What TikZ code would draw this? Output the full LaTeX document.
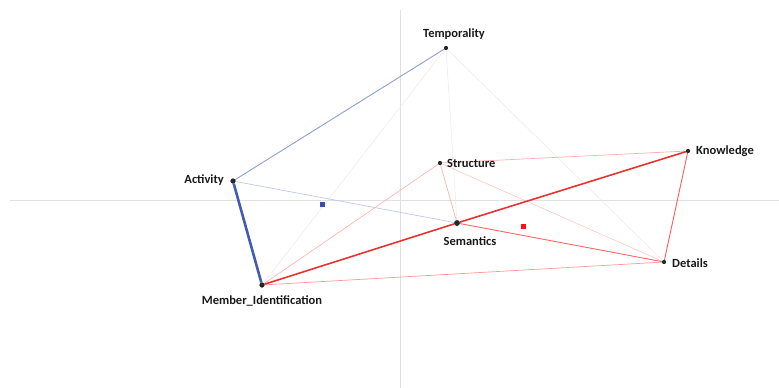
\documentclass[tikz,border=0pt]{standalone}
\usepackage{fontspec}
\setmainfont{Carlito}
\definecolor{bthick}{RGB}{66,92,176}
\definecolor{bmed}{RGB}{140,158,210}
\definecolor{blight}{RGB}{190,200,230}
\definecolor{fnt}{RGB}{232,232,240}
\definecolor{rthick}{RGB}{232,50,50}
\definecolor{bsqc}{RGB}{50,80,180}
\definecolor{rsqc}{RGB}{240,20,20}
\begin{document}
\begin{tikzpicture}[x=1pt,y=-1pt,
  dot/.style={circle,fill=black!85,inner sep=0pt,minimum size=#1},
  lbl/.style={font=\bfseries\fontsize{12.5}{14}\selectfont,text=black!90,inner sep=0pt},
  axis/.style={draw=black!12,line width=0.6pt},
  faint/.style={draw=fnt,line width=0.5pt},
  sq/.style={fill=#1,inner sep=0pt,minimum size=5pt}]
\useasboundingbox (0,0) rectangle (779,388);
% axes
\coordinate (hl) at (10,200); \coordinate (hr) at (779,200);
\coordinate (vt) at (400,10); \coordinate (vb) at (400,388);
\draw[axis] (hl) -- (hr);
\draw[axis] (vt) -- (vb);
% nodes
\node[dot=4pt] (tem) at (446,48) {};
\node[dot=5pt] (act) at (233,181) {};
\node[dot=5pt] (mem) at (262,285) {};
\node[dot=4pt] (str) at (440,163) {};
\node[dot=4pt] (kno) at (688,151) {};
\node[dot=5.5pt] (sem) at (457,223) {};
\node[dot=4pt] (det) at (664,262) {};
% edges
\draw[faint] (tem) -- (mem);
\draw[faint] (tem) -- (sem);
\draw[faint] (tem) -- (det);
\draw[draw=red!25,line width=0.5pt] (str) -- (det);
\draw[draw=red!32,line width=0.6pt] (str) -- (mem);
\draw[draw=red!35,line width=0.6pt] (str) -- (sem);
\draw[draw=red!32,line width=0.7pt] (str) -- (kno);
\draw[draw=red!40,line width=0.7pt] (mem) -- (det);
\draw[draw=red!60,line width=0.9pt] (sem) -- (det);
\draw[draw=red!65,line width=0.9pt] (kno) -- (det);
\draw[draw=blight,line width=0.7pt] (act) -- (sem);
\draw[draw=bmed,line width=0.9pt] (tem) -- (act);
\draw[draw=rthick,line width=1.6pt] (mem) -- (sem);
\draw[draw=rthick,line width=1.6pt] (sem) -- (kno);
\draw[draw=bthick,line width=2.6pt] (act) -- (mem);
% redraw dots on top
\fill[black!85] (tem) circle (2pt) (act) circle (2.5pt) (mem) circle (2.5pt) (str) circle (2pt) (kno) circle (2pt) (sem) circle (2.75pt) (det) circle (2pt);
% squares
\node[sq=bsqc] (bsq) at (322,204) {};
\node[sq=rsqc] (rsq) at (523,226) {};
% labels
\node[lbl] (temL) at (454,34) {Temporality};
\node[lbl,anchor=east] (actL) at (224,180) {Activity};
\node[lbl] (memL) at (262,301) {Member\_Identification};
\node[lbl,anchor=west] (strL) at (447,163) {Structure};
\node[lbl,anchor=west] (knoL) at (696,151) {Knowledge};
\node[lbl] (semL) at (470,241) {Semantics};
\node[lbl,anchor=west] (detL) at (672,263) {Details};
\end{tikzpicture}
\end{document}
